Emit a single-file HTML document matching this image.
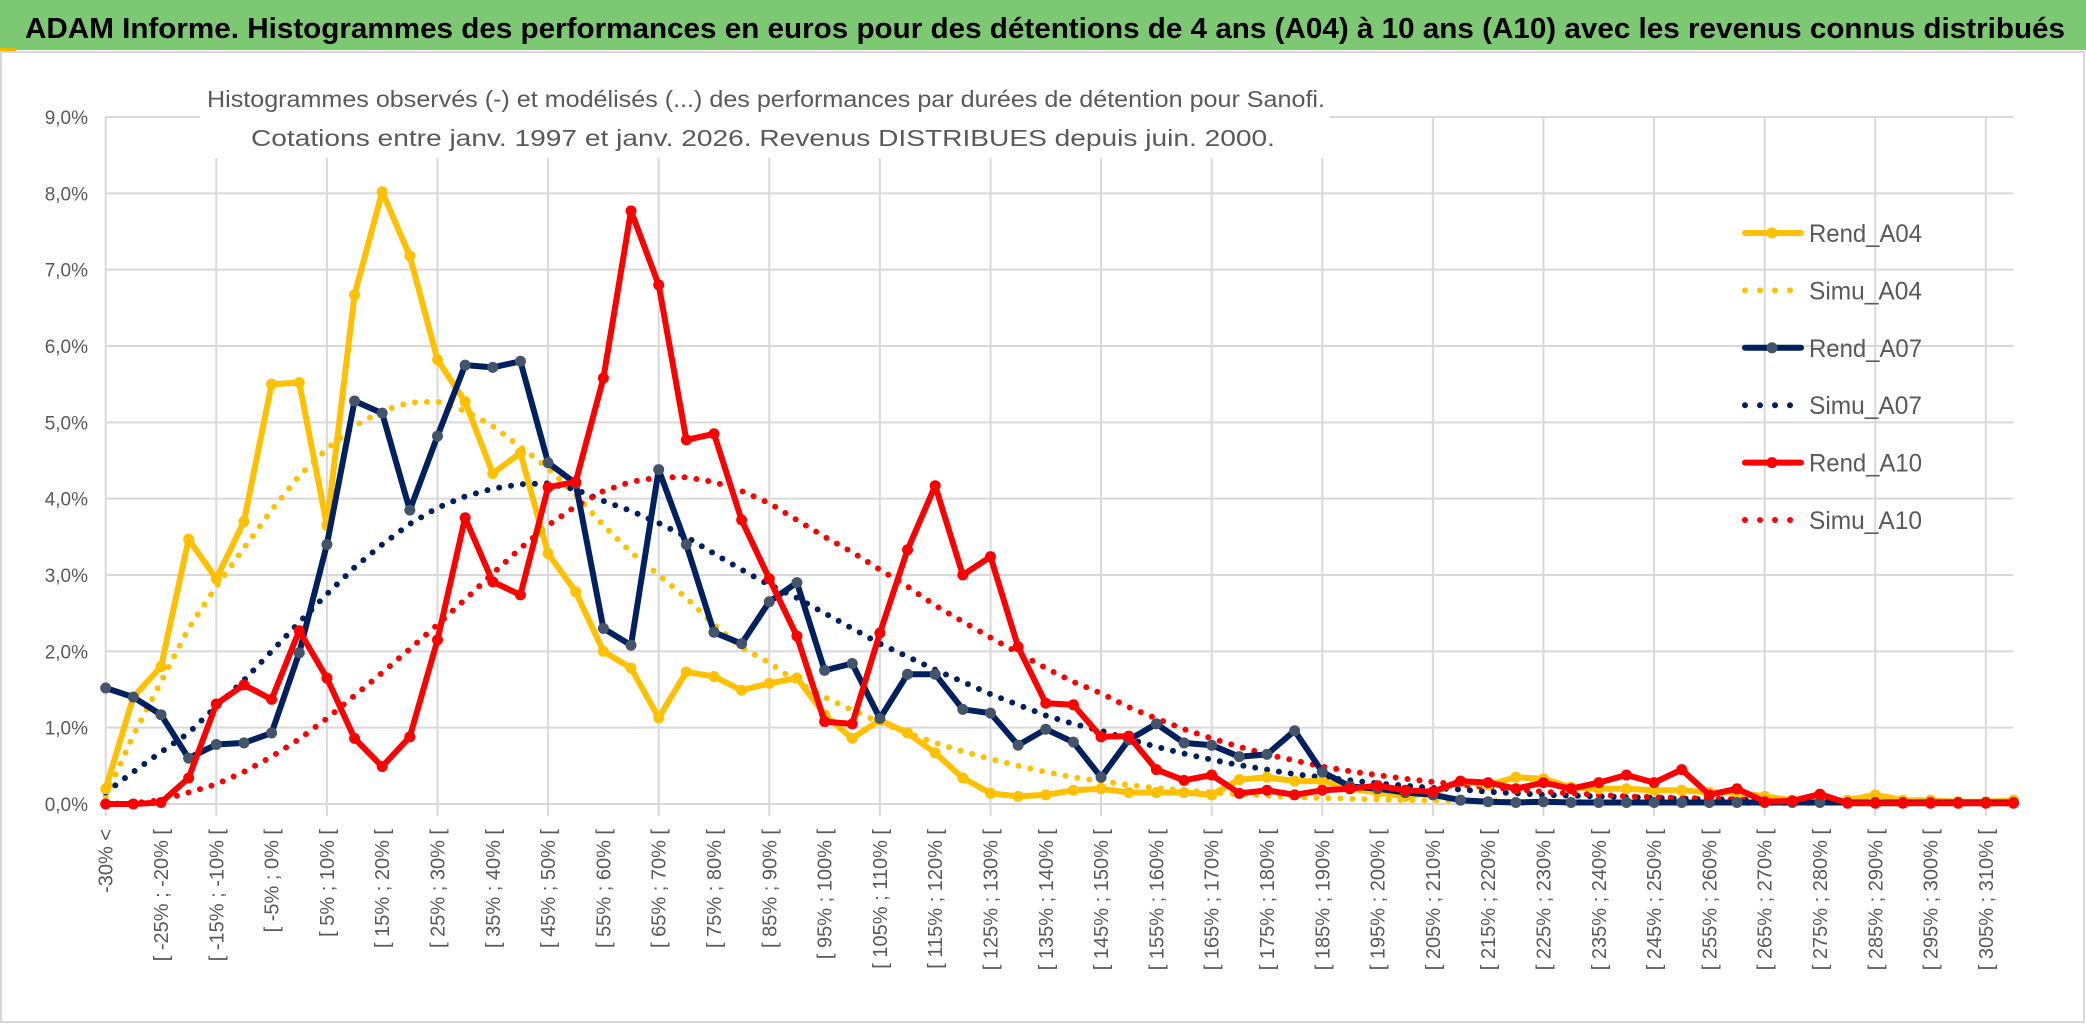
<!DOCTYPE html>
<html><head><meta charset="utf-8">
<style>
html,body{margin:0;padding:0;background:#fff;}
svg{display:block;}
text{font-family:"Liberation Sans",sans-serif;}
</style></head>
<body>
<svg id="chart" width="2086" height="1031" viewBox="0 0 2086 1031" xmlns="http://www.w3.org/2000/svg">
  <rect x="0" y="0" width="2086" height="1031" fill="#ffffff"/>
  <rect x="0" y="0" width="2086" height="50" fill="#7dc873"/>
  <rect x="0" y="48" width="16" height="4" fill="#f0b400"/>
  <text x="25" y="38" font-size="29" font-weight="bold" fill="#000" textLength="2040" lengthAdjust="spacingAndGlyphs">ADAM Informe. Histogrammes des performances en euros pour des détentions de 4 ans (A04) à 10 ans (A10) avec les revenus connus distribués</text>
  <rect x="1" y="52" width="2083" height="970" fill="none" stroke="#d9d9d9" stroke-width="2"/>
  <g id="grid"></g>
  <rect x="200" y="75" width="1130" height="83" fill="#ffffff"/>
  <text x="766" y="107" font-size="23" fill="#595959" text-anchor="middle" textLength="1118" lengthAdjust="spacingAndGlyphs">Histogrammes observés (-) et modélisés (...) des performances par durées de détention pour Sanofi.</text>
  <text x="763" y="146" font-size="23" fill="#595959" text-anchor="middle" textLength="1024" lengthAdjust="spacingAndGlyphs">Cotations entre janv. 1997 et janv. 2026. Revenus DISTRIBUES depuis juin. 2000.</text>
  <g id="yaxis"></g>
  <g id="xaxis"></g>
  <g id="series"></g>
  <g id="legend"></g>
</svg>
<script>
const yTicks = [0,1,2,3,4,5,6,7,8,9];
const yTickLabels = ["0,0%","1,0%","2,0%","3,0%","4,0%","5,0%","6,0%","7,0%","8,0%","9,0%"];
const categories = (function(){const c=["-30% <"];for(let k=1;k<70;k++){const a=-30+5*(k-1);c.push("[ "+a+"% ; "+(a+5)+"% [");}return c;})();
const rendA04 = [0.2,1.4,1.8,3.47,2.95,3.7,5.5,5.52,3.65,6.67,8.02,7.18,5.82,5.27,4.33,4.6,3.28,2.78,2.0,1.78,1.13,1.73,1.67,1.49,1.58,1.65,1.17,0.86,1.1,0.93,0.67,0.34,0.14,0.1,0.12,0.18,0.2,0.15,0.15,0.15,0.12,0.32,0.35,0.3,0.3,0.2,0.15,0.1,0.15,0.3,0.25,0.35,0.33,0.22,0.2,0.2,0.18,0.18,0.15,0.15,0.1,0.05,0.05,0.05,0.12,0.05,0.05,0.03,0.03,0.05];
const simuA04 = [0.1,0.9,1.6,2.3,2.85,3.35,3.85,4.3,4.65,4.95,5.15,5.26,5.27,5.15,4.95,4.68,4.4,4.05,3.65,3.3,3.0,2.7,2.35,2.05,1.85,1.6,1.4,1.23,1.07,0.93,0.8,0.69,0.59,0.5,0.42,0.35,0.3,0.25,0.21,0.18,0.15,0.13,0.11,0.09,0.08,0.07,0.06,0.05,0.05,0.04,0.04,0.03,0.03,0.03,0.02,0.02,0.02,0.02,0.02,0.01,0.01,0.01,0.01,0.01,0.01,0.01,0.01,0.01,0.01,0.01];
const rendA07 = [1.52,1.4,1.17,0.6,0.78,0.8,0.93,1.98,3.4,5.28,5.12,3.85,4.82,5.75,5.72,5.8,4.47,4.2,2.3,2.08,4.38,3.4,2.25,2.1,2.65,2.9,1.75,1.84,1.12,1.7,1.7,1.24,1.19,0.77,0.98,0.81,0.35,0.84,1.05,0.8,0.77,0.62,0.65,0.96,0.42,0.23,0.2,0.15,0.12,0.05,0.03,0.02,0.03,0.02,0.02,0.02,0.02,0.02,0.02,0.02,0.02,0.02,0.02,0.02,0.02,0.02,0.02,0.02,0.02,0.02];
const simuA07 = [0.15,0.42,0.68,0.93,1.28,1.62,2.0,2.38,2.75,3.1,3.4,3.67,3.88,4.03,4.13,4.19,4.2,4.12,3.97,3.84,3.68,3.5,3.28,3.07,2.87,2.7,2.5,2.3,2.1,1.93,1.76,1.6,1.44,1.3,1.16,1.05,0.96,0.85,0.75,0.66,0.58,0.51,0.45,0.39,0.35,0.31,0.27,0.24,0.21,0.19,0.16,0.14,0.12,0.11,0.1,0.09,0.08,0.07,0.06,0.06,0.05,0.05,0.04,0.04,0.03,0.03,0.03,0.02,0.02,0.02];
const rendA10 = [0.0,0.0,0.02,0.34,1.31,1.56,1.37,2.27,1.65,0.86,0.49,0.88,2.15,3.75,2.91,2.74,4.15,4.22,5.58,7.77,6.8,4.77,4.85,3.72,2.95,2.2,1.08,1.05,2.24,3.33,4.17,3.0,3.24,2.06,1.32,1.3,0.88,0.89,0.45,0.31,0.38,0.14,0.18,0.12,0.18,0.2,0.24,0.18,0.16,0.3,0.28,0.2,0.28,0.2,0.28,0.38,0.28,0.45,0.12,0.2,0.03,0.04,0.13,0.01,0.01,0.01,0.01,0.01,0.01,0.01];
const simuA10 = [0.0,0.01,0.05,0.15,0.26,0.42,0.62,0.85,1.12,1.42,1.72,2.03,2.35,2.68,3.02,3.35,3.65,3.9,4.1,4.22,4.28,4.28,4.22,4.1,3.94,3.72,3.5,3.3,3.07,2.85,2.6,2.39,2.18,1.98,1.78,1.6,1.45,1.27,1.12,0.98,0.86,0.75,0.65,0.57,0.49,0.43,0.38,0.33,0.29,0.25,0.22,0.19,0.16,0.14,0.12,0.1,0.09,0.08,0.07,0.06,0.05,0.04,0.04,0.03,0.03,0.02,0.02,0.02,0.01,0.01];
const seriesNames = ["Rend_A04","Simu_A04","Rend_A07","Simu_A07","Rend_A10","Simu_A10"];

const NS="http://www.w3.org/2000/svg";
const X0=105.7, X1=2013.5, Y0=804, Y9=117;
function xScale(i){return X0+(X1-X0)*i/(categories.length-1);}
function yScale(v){return Y0-(Y0-Y9)*v/9;}
function mk(tag,attrs,parent){const e=document.createElementNS(NS,tag);for(const k in attrs)e.setAttribute(k,attrs[k]);parent.appendChild(e);return e;}

const grid=document.getElementById('grid');
yTicks.forEach(function(t){
  const l=mk('line',{x1:X0,x2:X1,y1:yScale(t),y2:yScale(t),stroke:'#d9d9d9','stroke-width':2},grid);
  
  
});
for(let i=0;i<categories.length;i+=4){
  const l=mk('line',{x1:xScale(i),x2:xScale(i),y1:Y9,y2:Y0+12,stroke:'#d9d9d9','stroke-width':2},grid);
  
  
}
const yaxis=document.getElementById('yaxis');
yTicks.forEach(function(t,k){
  const tx=mk('text',{x:88,y:yScale(t)+7,'font-size':19,fill:'#595959','text-anchor':'end'},yaxis);
  tx.textContent=yTickLabels[k];
  
  
});
const xaxis=document.getElementById('xaxis');
for(let i=0;i<categories.length;i+=2){
  const x=xScale(i)+7, y=829;
  const tx=mk('text',{x:x,y:y,'font-size':20,fill:'#595959','text-anchor':'end',transform:'rotate(-90 '+x+' '+y+')'},xaxis);
  tx.textContent=categories[i];
  
  
}
const seriesG=document.getElementById('series');
function drawSeries(vals,color,dotted,markerColor,name){
  const g=mk('g',{},seriesG);
  
  
  const pts=vals.map(function(v,i){return xScale(i).toFixed(1)+','+yScale(v).toFixed(1);}).join(' ');
  const pl=mk('polyline',{points:pts,fill:'none',stroke:color,'stroke-width':dotted?6:6,'stroke-linejoin':'round','stroke-linecap':'round'},g);
  if(dotted){pl.setAttribute('stroke-dasharray','0 12');}
  
  
  if(!dotted){
    vals.forEach(function(v,i){
      const c=mk('circle',{cx:xScale(i),cy:yScale(v),r:5.5,fill:markerColor},g);
      
      
    });
  }
}
drawSeries(simuA04,'#ffc000',true,null,'simu-a04');
drawSeries(simuA07,'#002060',true,null,'simu-a07');
drawSeries(simuA10,'#ff0000',true,null,'simu-a10');
drawSeries(rendA04,'#ffc000',false,'#ffc000','rend-a04');
drawSeries(rendA07,'#002060',false,'#44546a','rend-a07');
drawSeries(rendA10,'#ff0000',false,'#ff0000','rend-a10');

const legend=document.getElementById('legend');
const legendColors=['#ffc000','#ffc000','#002060','#002060','#ff0000','#ff0000'];
const legendMarkers=['#ffc000',null,'#44546a',null,'#ff0000',null];
seriesNames.forEach(function(n,k){
  const y=233+57.4*k;
  const g=mk('g',{},legend);
  
  
  const ln=mk('line',{x1:1745,x2:1801,y1:y,y2:y,stroke:legendColors[k],'stroke-width':6,'stroke-linecap':'round'},g);
  if(!legendMarkers[k]){ln.setAttribute('stroke-dasharray','0 15');ln.setAttribute('x2',1792);}
  
  
  if(legendMarkers[k]){
    const c=mk('circle',{cx:1772,cy:y,r:5.5,fill:legendMarkers[k]},g);
    
    
  }
  const t=mk('text',{x:1809,y:y+9,'font-size':25,fill:'#595959',textLength:113,lengthAdjust:'spacingAndGlyphs'},g);
  t.textContent=n;
  
  
});
</script>
</body></html>
